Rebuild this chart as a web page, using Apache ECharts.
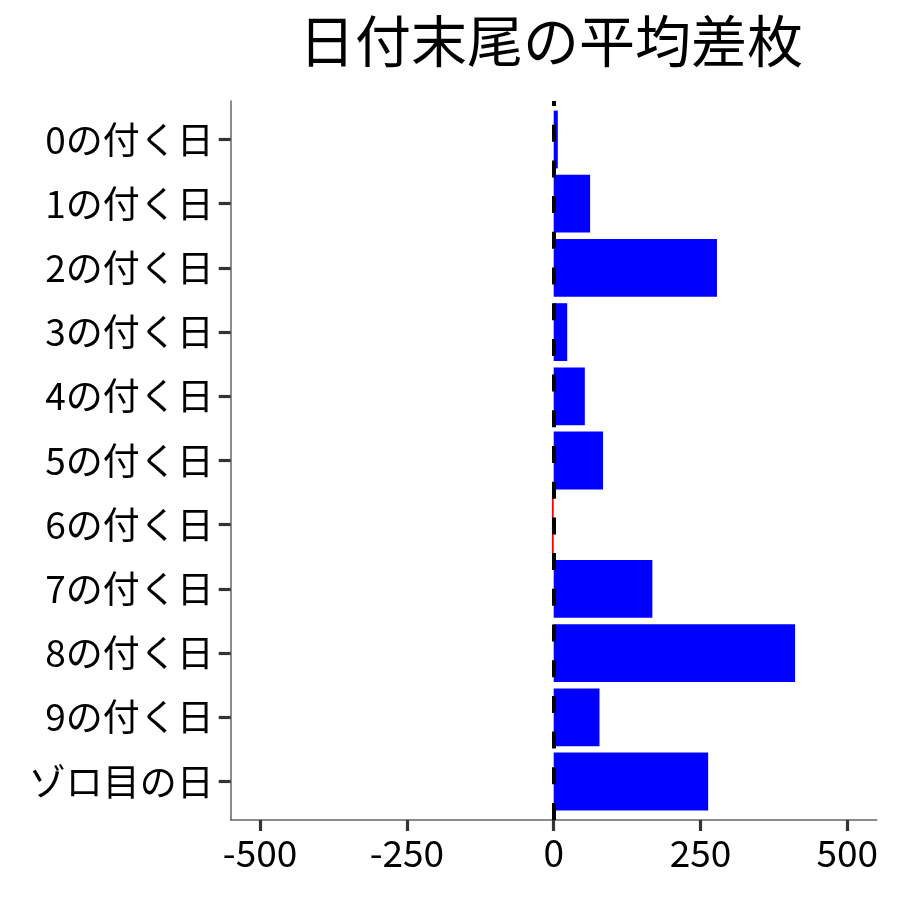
<!DOCTYPE html>
<html><head><meta charset="utf-8">
<script src="https://cdn.jsdelivr.net/npm/echarts@6/dist/echarts.min.js"></script>
<style>html,body{margin:0;padding:0;background:#fff}#c{width:900px;height:900px}</style>
</head><body><div id="c"></div>
<script>
const titleText = '日付末尾の平均差枚';
const categories = ['0の付く日','1の付く日','2の付く日','3の付く日','4の付く日','5の付く日','6の付く日','7の付く日','8の付く日','9の付く日','ゾロ目の日'];
const values = [7, 62, 278, 23, 53, 84, -3, 168, 411, 78, 263];
const xTicks = [-500, -250, 0, 250, 500];

const FONT = '"Noto Sans CJK JP", "Noto Sans", sans-serif';
const chart = echarts.init(document.getElementById('c'), null, {renderer: 'canvas'});
chart.setOption({
  animation: false,
  backgroundColor: '#ffffff',
  title: {
    text: titleText, left: 546, top: 8, textAlign: 'center',
    textStyle: {fontFamily: FONT, fontSize: 56, fontWeight: 'normal', color: '#000'}
  },
  grid: [
    {left: 230.7, width: 646, top: 107.4, height: 706.2},
    {left: 230.7, width: 646, top: 101, height: 719}
  ],
  xAxis: [
    {gridIndex: 0, type: 'value', min: -550, max: 550, show: false, axisLine: {onZero: false}},
    {gridIndex: 1, type: 'value', min: -550, max: 550,
     splitLine: {show: false},
     axisLine: {show: true, onZero: false, lineStyle: {color: '#666', width: 1.5}},
     axisTick: {show: true, customValues: xTicks, length: 11, lineStyle: {color: '#333', width: 3.2}},
     axisLabel: {customValues: xTicks, fontFamily: FONT, fontSize: 37, color: '#000', margin: 14}}
  ],
  yAxis: [
    {gridIndex: 0, type: 'category', data: categories, inverse: true,
     axisLine: {show: false, onZero: false},
     axisTick: {show: true, length: 12, alignWithLabel: true, lineStyle: {color: '#333', width: 3.2}},
     axisLabel: {fontFamily: FONT, fontSize: 37, color: '#000', margin: 17}},
    {gridIndex: 1, type: 'value', min: -0.6, max: 10.6,
     splitLine: {show: false}, axisTick: {show: false}, axisLabel: {show: false},
     axisLine: {show: true, onZero: false, lineStyle: {color: '#666', width: 1.5}}}
  ],
  series: [
    {type: 'bar', xAxisIndex: 0, yAxisIndex: 0, data: values, barWidth: '90%',
     itemStyle: {color: p => p.value < 0 ? '#ff0000' : '#0000ff'}, z: 2},
    {type: 'line', xAxisIndex: 1, yAxisIndex: 1, data: [], z: 5,
     markLine: {silent: true, symbol: 'none', label: {show: false},
       lineStyle: {color: '#000', width: 4, type: [17, 18.7]},
       data: [{xAxis: 0}]}}
  ]
});
</script></body></html>
